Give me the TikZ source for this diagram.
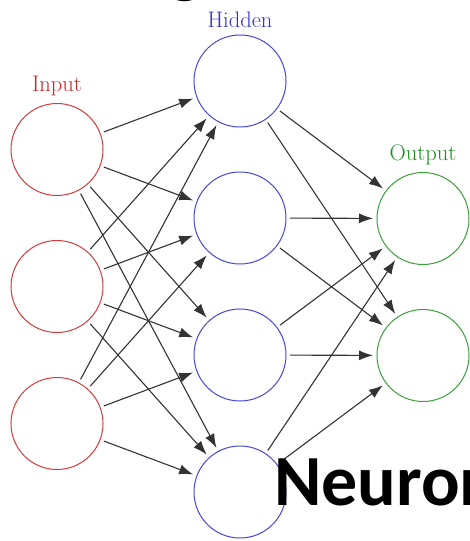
\documentclass[tikz,border=0pt]{standalone}
\usepackage{fontspec}
\newfontfamily\carlito{Carlito}
\usetikzlibrary{arrows.meta}
\definecolor{inred}{RGB}{210,60,60}
\definecolor{hidblue}{RGB}{70,70,220}
\definecolor{outgreen}{RGB}{60,160,60}
\definecolor{inredtxt}{RGB}{190,40,40}
\definecolor{hidbluetxt}{RGB}{50,50,200}
\definecolor{outgreentxt}{RGB}{30,140,30}
\begin{document}
\begin{tikzpicture}[x=1pt,y=-1pt,
  neuron/.style={circle,minimum size=92pt,inner sep=0pt,outer sep=4pt,line width=1pt},
  inp/.style={neuron,draw=inred},
  hid/.style={neuron,draw=hidblue},
  outp/.style={neuron,draw=outgreen},
  lab/.style={anchor=base,font=\fontsize{22.5}{27}\selectfont},
  conn/.style={-{Latex[length=14pt,width=10pt]},line width=1.1pt,draw=black!80},
  big/.style={anchor=base west,inner sep=0pt,font=\carlito\bfseries\fontsize{72}{80}\selectfont}]
\useasboundingbox (0,0) rectangle (470,541);
\clip (0,0) rectangle (470,541);
% partial heading text
\node[big] (head) at (168,-11) {g};
% neurons
\node[inp] (i1) at (57,149.5) {};
\node[inp] (i2) at (57,286.5) {};
\node[inp] (i3) at (57,423.5) {};
\node[hid] (h1) at (240,81) {};
\node[hid] (h2) at (240,218) {};
\node[hid] (h3) at (240,355) {};
\node[hid] (h4) at (240,492) {};
\node[outp] (o1) at (423,218.5) {};
\node[outp] (o2) at (423,355.5) {};
% labels
\node[lab,text=inredtxt] (li) at (57,91.5) {Input};
\node[lab,text=hidbluetxt] (lh) at (240,27.5) {Hidden};
\node[lab,text=outgreentxt] (lo) at (423,160) {Output};
% connections
\foreach \a in {i1,i2,i3}{
  \foreach \b in {h1,h2,h3,h4}{
    \draw[conn] (\a) -- (\b);
  }
}
\foreach \a in {h1,h2,h3,h4}{
  \foreach \b in {o1,o2}{
    \draw[conn] (\a) -- (\b);
  }
}
% overlaid text
\node[big] (neur) at (274,505) {Neuron};
\end{tikzpicture}
\end{document}
